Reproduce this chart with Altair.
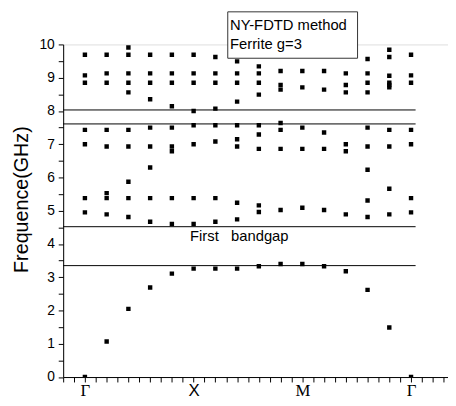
import altair as alt
import pandas as pd

# k-point index along the path Γ-X-M-Γ
k_points = list(range(16))
# Frequencies (GHz) read at each k-point
freqs = [
    [0.00, 4.95, 5.38, 7.00, 7.43, 8.85, 9.07, 9.69],
    [1.07, 4.89, 5.38, 5.53, 6.93, 7.43, 8.85, 9.13, 9.69],
    [2.05, 4.81, 5.38, 5.87, 6.93, 7.43, 8.56, 8.85, 9.13, 9.69, 9.91],
    [2.69, 4.67, 5.38, 6.30, 6.93, 7.50, 8.35, 8.85, 9.13, 9.69],
    [3.11, 4.60, 5.38, 6.79, 6.93, 7.50, 8.14, 8.85, 9.13, 9.69],
    [3.26, 4.60, 5.38, 7.00, 7.57, 8.00, 8.85, 9.13, 9.69],
    [3.26, 4.67, 5.38, 7.08, 7.57, 8.07, 8.85, 9.13, 9.62],
    [3.26, 4.74, 5.24, 6.93, 7.15, 7.57, 8.28, 8.85, 9.13, 9.49],
    [3.33, 4.96, 5.16, 6.86, 7.29, 7.57, 8.49, 8.85, 9.13, 9.34],
    [3.40, 5.02, 6.86, 7.43, 7.64, 8.64, 8.78, 9.20],
    [3.40, 5.09, 6.86, 7.50, 8.71, 9.20],
    [3.33, 5.02, 6.86, 7.35, 8.64, 9.20],
    [3.18, 4.89, 6.79, 7.00, 8.56, 8.78, 9.13],
    [2.62, 4.81, 5.31, 6.23, 6.93, 7.50, 8.56, 8.85, 9.13, 9.56],
    [1.49, 4.89, 5.66, 6.93, 7.43, 8.71, 8.78, 8.85, 9.06, 9.62, 9.84],
    [0.00, 4.95, 5.38, 7.00, 7.43, 8.85, 9.07, 9.69],
]
# Horizontal band-edge lines (GHz)
edge_lines = [8.03, 7.61, 4.52, 3.35]
# Symmetry point labels
sym_pos = [0, 5, 10, 15]
sym_labels = ["Γ", "X", "M", "Γ"]
gap_text = "First\u00a0\u00a0\u00a0bandgap"
legend_lines = ["NY-FDTD method", "Ferrite g=3"]

rows = [{"k": k, "f": f} for k, fl in zip(k_points, freqs) for f in fl]
pts = pd.DataFrame(rows)

label_expr = "".join(
    f"datum.value=={p}?'{l}':" for p, l in zip(sym_pos, sym_labels)
) + "''"

xscale = alt.Scale(domain=[-1, 16.7], nice=False, zero=False)
yscale = alt.Scale(domain=[0, 10], nice=False)

xaxis = alt.Axis(
    values=[i * 0.5 for i in range(-2, 34)],
    labelExpr=label_expr,
    labelFont={"condition": {"test": "datum.value==5", "value": "Liberation Sans"},
               "value": "Liberation Serif"},
    labelFontSize=17, labelColor="black", labelPadding=1,
    labelOverlap=False, labelFlush=False,
    tickSize=5, tickColor="black", domainColor="black",
    grid=False, title=None,
)
yaxis = alt.Axis(
    values=[i * 0.5 for i in range(0, 21)],
    labelExpr="datum.value % 1 == 0 ? format(datum.value, 'd') : ''",
    labelFont="Liberation Sans", labelFontSize=14, labelColor="black",
    labelPadding=4, labelOverlap=False,
    tickSize=5, tickColor="black", domainColor="black", grid=False,
    title="Frequence(GHz)", titleFont="Liberation Sans", titleFontSize=20,
    titleFontWeight="normal", titleColor="black",
    titleX=-36, titleY=157, titleAlign="center", titleBaseline="alphabetic",
)

def X(field="k"):
    return alt.X(f"{field}:Q", scale=xscale, axis=xaxis)

def Y(field="f"):
    return alt.Y(f"{field}:Q", scale=yscale, axis=yaxis)

lines_df = pd.DataFrame({"f": edge_lines, "k": [-1] * len(edge_lines),
                         "k2": [15.21] * len(edge_lines)})
rules = alt.Chart(lines_df).mark_rule(color="black", strokeWidth=1).encode(
    x=X(), x2="k2", y=Y())

box_df = pd.DataFrame({"k": [6.57], "k2": [12.54], "f": [9.585], "f2": [10.98]})
box = alt.Chart(box_df).mark_rect(fill="white", stroke="#333333", strokeWidth=1).encode(
    x=X(), x2="k2", y=Y(), y2="f2")

leg_df = pd.DataFrame({"k": [6.675, 6.675], "f": [10.427, 9.852], "t": legend_lines})
leg_text = alt.Chart(leg_df).mark_text(
    align="left", baseline="alphabetic", font="Liberation Sans", fontSize=15,
    color="black").encode(x=X(), y=Y(), text="t:N")

gap_df = pd.DataFrame({"k": [4.835], "f": [4.076], "t": [gap_text]})
gap = alt.Chart(gap_df).mark_text(
    align="left", baseline="alphabetic", font="Liberation Sans", fontSize=15,
    color="black").encode(x=X(), y=Y(), text="t:N")

points = alt.Chart(pts).mark_square(size=20, color="black", opacity=1, clip=True).encode(
    x=X(), y=Y())

chart = alt.layer(rules, box, leg_text, gap, points).properties(
    width=390.6, height=337.6,
    autosize=alt.AutoSizeParams(type="none"),
    padding={"left": 56, "top": 34, "right": 0, "bottom": 26},
).configure_view(stroke=None).configure(background="white")

chart.save("out.html", embed_options={"renderer": "svg", "actions": False})
